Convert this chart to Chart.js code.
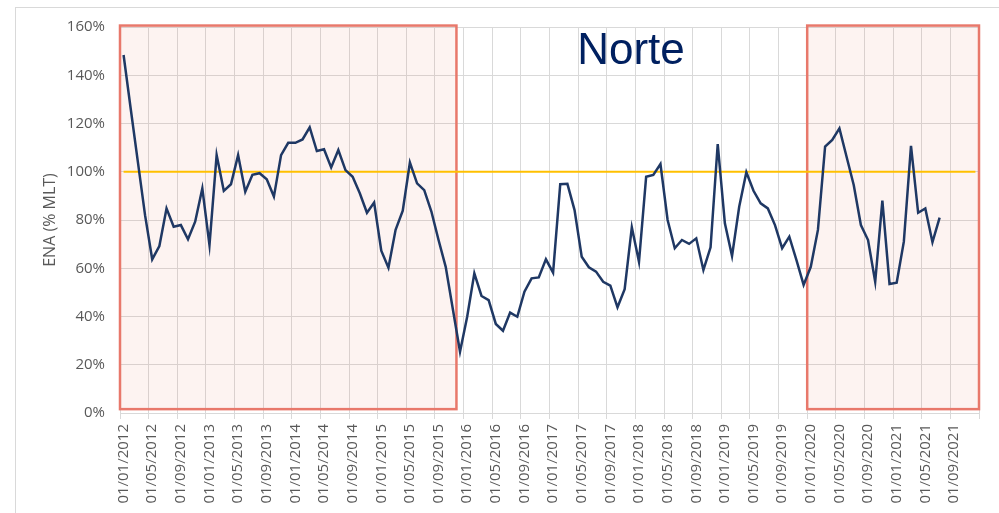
<!DOCTYPE html>
<html>
<head>
<meta charset="utf-8">
<script src="https://cdn.jsdelivr.net/npm/chart.js@4"></script>
<style>
  html, body { margin: 0; padding: 0; background: #fff; }
  #wrap { width: 999px; height: 513px; }
</style>
</head>
<body>
<div id="wrap"><canvas id="myChart" width="999" height="513"></canvas></div>
<script>
// monthly categories, Jan 2012 .. Dec 2021
const startYear = 2012;
const monthCount = 120;
const months = [];
for (let i = 0; i < monthCount; i++) {
    const yr = startYear + Math.floor(i / 12);
    const mm = String(i % 12 + 1).padStart(2, '0');
    months.push('01/' + mm + '/' + yr);
}

// ENA Norte (% MLT), Jan 2012 .. Jul 2021
const enaNorte = [
    148.4, 126, 104, 82, 63.7, 69.2, 84.8, 77.2, 77.9, 72.0, 79.3, 93.1,
    69.6, 106.9, 92.1, 94.8, 106.9, 91.7, 98.7, 99.4, 96.9, 89.7, 106.9, 112.0,
    112.0, 113.4, 118.4, 108.6, 109.3, 101.8, 109.0, 100.7, 97.9, 91.1, 83.0, 87.2,
    67.3, 60.2, 75.9, 83.9, 103.8, 95.2, 92.4, 83.5, 71.7, 60.6, 43, 25.4,
    39.9, 57.9, 48.5, 46.8, 36.9, 34.1, 41.6, 39.9, 50.3, 55.8, 56.2, 63.7,
    58.2, 94.8, 95.0, 84.1, 64.8, 60.4, 58.6, 54.4, 52.8, 43.8, 51.3, 77.0,
    62.7, 97.9, 98.7, 103.2, 80.0, 68.3, 71.7, 70.1, 72.4, 59.3, 68.7, 111.5,
    78.6, 65.1, 85.5, 99.8, 92.1, 86.9, 84.8, 77.9, 68.3, 73.1, 63.4, 53.1,
    60.6, 75.9, 110.4, 113.2, 118.0, 106.2, 94.5, 77.9, 71.7, 54.4, 88.0, 53.5,
    54.0, 71.0, 110.7, 83.0, 84.8, 70.8, 81.0
];

const yTicks = [0, 20, 40, 60, 80, 100, 120, 140, 160];
const refLevel = 100;
const shadedPeriods = [
    ['01/01/2012', '01/11/2015'],
    ['01/01/2020', '01/12/2021']
];
const chartTitle = 'Norte';
const yTitle = 'ENA (% MLT)';

const gridColor = '#D9D9D9';
const textColor = '#595959';

Chart.defaults.font.family = '"Open Sans", sans-serif';
Chart.defaults.font.size = 15;
Chart.defaults.color = textColor;

const overlay = {
    id: 'overlay',
    beforeDraw(chart) {
        const c = chart.ctx;
        c.save();
        c.strokeStyle = gridColor;
        c.lineWidth = 1;
        c.strokeRect(15.5, 7.5, 1000, 600);
        c.restore();
    },
    beforeDatasetsDraw(chart) {
        const c = chart.ctx;
        const x = chart.scales.x;
        const y = chart.scales.y;
        c.save();
        shadedPeriods.forEach(([from, to]) => {
            const x0 = x.getPixelForValue(months.indexOf(from) - 0.5);
            const x1 = x.getPixelForValue(months.indexOf(to) + 0.5);
            const y0 = y.getPixelForValue(160.6);
            const y1 = y.getPixelForValue(1.6);
            c.fillStyle = 'rgba(235,120,105,0.09)';
            c.fillRect(x0, y0, x1 - x0, y1 - y0);
            c.strokeStyle = '#E8786B';
            c.lineWidth = 2.5;
            c.strokeRect(x0, y0, x1 - x0, y1 - y0);
        });
        const yr = y.getPixelForValue(refLevel);
        c.strokeStyle = '#FFC000';
        c.lineWidth = 2;
        c.beginPath();
        c.moveTo(x.getPixelForValue(0), yr);
        c.lineTo(x.getPixelForValue(months.length - 1), yr);
        c.stroke();
        c.restore();
    },
    afterDraw(chart) {
        const c = chart.ctx;
        c.save();
        c.font = '44px "Liberation Sans"';
        c.fillStyle = '#002060';
        c.textAlign = 'center';
        c.textBaseline = 'middle';
        c.fillText(chartTitle, 631, 52);
        c.restore();
    }
};

const ctx = document.getElementById('myChart');
const chart = new Chart(ctx, {
    type: 'line',
    data: {
        labels: months,
        datasets: [{
            label: chartTitle,
            data: enaNorte,
            borderColor: '#1F3864',
            borderWidth: 2.5,
            pointRadius: 0,
            tension: 0
        }]
    },
    options: {
        responsive: false,
        animation: false,
        layout: { padding: { left: 37, right: 20, top: 27, bottom: 0 } },
        plugins: {
            legend: { display: false },
            tooltip: { enabled: false }
        },
        scales: {
            x: {
                offset: true,
                grid: {
                    offset: true,
                    drawTicks: true,
                    tickLength: 6,
                    lineWidth: 1,
                    color: c => (c.index === undefined || c.index % 4 === 0) ? gridColor : 'rgba(0,0,0,0)'
                },
                border: { color: gridColor },
                ticks: {
                    autoSkip: false,
                    maxRotation: 90,
                    minRotation: 90,
                    padding: 5,
                    callback: (v, i) => i % 4 === 0 ? months[i] : ''
                },
                afterFit: s => { s.height = 100; }
            },
            y: {
                min: yTicks[0],
                max: yTicks[yTicks.length - 1],
                afterBuildTicks: s => { s.ticks = yTicks.map(v => ({ value: v })); },
                grid: { color: gridColor, drawTicks: false },
                border: { color: gridColor },
                ticks: {
                    padding: 15,
                    callback: v => v + '%'
                },
                title: {
                    display: true,
                    text: yTitle,
                    font: { size: 16 },
                    color: textColor
                },
                afterFit: s => { s.width = 83; }
            }
        }
    },
    plugins: [overlay]
});
</script>
</body>
</html>
